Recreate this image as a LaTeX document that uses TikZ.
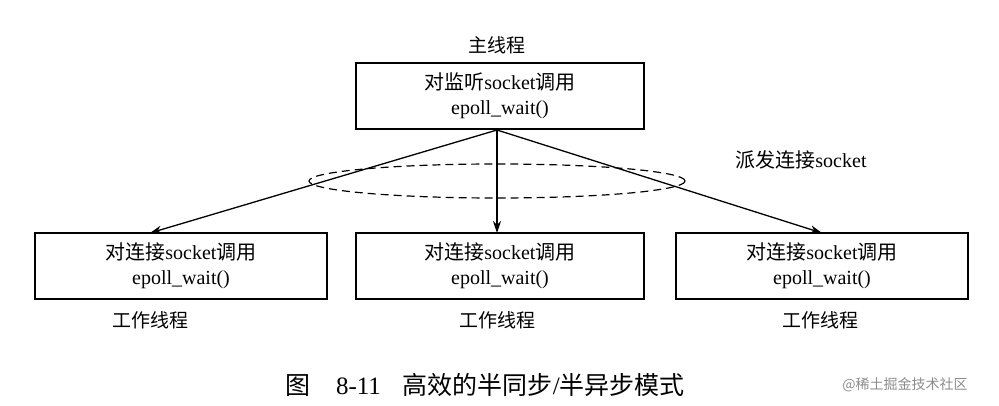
\documentclass[tikz,border=0pt]{standalone}
\usepackage{fontspec}
\setmainfont{Liberation Serif}
\newfontfamily\cjk{Noto Sans CJK SC}
\usetikzlibrary{arrows.meta}
\begin{document}
\begin{tikzpicture}[x=1pt,y=-1pt,
  box/.style={draw,line width=1.3pt,minimum width=288pt,minimum height=66pt,align=center,font=\fontsize{20}{25}\selectfont,inner sep=0pt},
  lbl/.style={font=\cjk\fontsize{19}{22}\selectfont},
  arr/.style={-{Stealth[length=12pt,width=8pt]},line width=1.3pt}]
\useasboundingbox (0,0) rectangle (999,406);
\node[box] (m) at (500,96) {{\cjk 对监听}socket{\cjk 调用}\\epoll\_wait()};
\node[lbl] (ml) at (497,45) {主线程};
\node[box,minimum width=292pt] (l) at (181,266) {{\cjk 对连接}socket{\cjk 调用}\\epoll\_wait()};
\node[box] (c) at (500,266) {{\cjk 对连接}socket{\cjk 调用}\\epoll\_wait()};
\node[box,minimum width=292pt] (r) at (822,266) {{\cjk 对连接}socket{\cjk 调用}\\epoll\_wait()};
\node[lbl] (ll) at (150,320) {工作线程};
\node[lbl] (cl) at (497,320) {工作线程};
\node[lbl] (rl) at (820,320) {工作线程};
\draw[line width=1.2pt,dash pattern=on 8pt off 5pt] (497,181) ellipse (188pt and 17pt);
\node[font=\fontsize{20}{22}\selectfont] (d) at (801,160) {{\cjk 派发连接}socket};
\coordinate (s) at (497,130);
\draw[arr] (s) -- (150,233);
\draw[arr] (s) -- (497,233);
\draw[arr] (s) -- (822,233);
\node[font=\fontsize{25}{28}\selectfont] (cap) at (485,385) {{\cjk 图}\hspace{26pt}8-11\hspace{22pt}{\cjk 高效的半同步}/{\cjk 半异步模式}};
\node[font=\cjk\fontsize{14}{16}\selectfont,text=black!45] (wm) at (905,385) {@稀土掘金技术社区};
\end{tikzpicture}
\end{document}
